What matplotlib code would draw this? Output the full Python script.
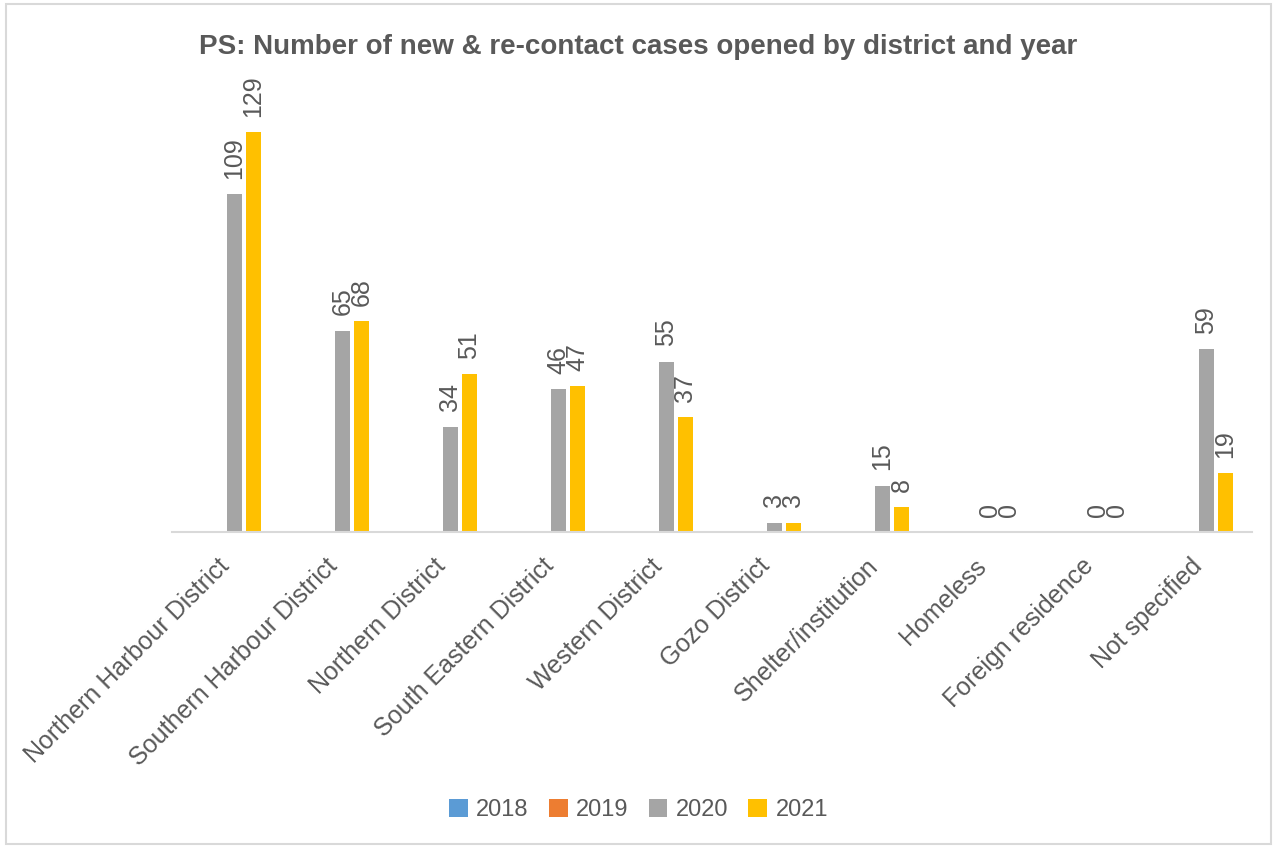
import matplotlib.pyplot as plt
from matplotlib.patches import Rectangle
import numpy as np

plt.rcParams['font.family'] = ['Liberation Sans', 'DejaVu Sans']

# data
districts = ['Northern Harbour District', 'Southern Harbour District', 'Northern District',
             'South Eastern District', 'Western District', 'Gozo District',
             'Shelter/institution', 'Homeless', 'Foreign residence', 'Not specified']
years = ['2018', '2019', '2020', '2021']
v2018 = [None] * 10
v2019 = [None] * 10
v2020 = [109, 65, 34, 46, 55, 3, 15, 0, 0, 59]
v2021 = [129, 68, 51, 47, 37, 3, 8, 0, 0, 19]
colors = ['#5B9BD5', '#ED7D31', '#A5A5A5', '#FFC000']

txt = '#595959'

fig = plt.figure(figsize=(12.77, 8.48), dpi=100)
ax = fig.add_axes([172/1277, 1 - 532/848, 1080/1277, (532 - 100)/848])

x = np.arange(len(districts))
slot = 0.176
bw = 0.139
series = [v2018, v2019, v2020, v2021]
for k, (vals, c, yr) in enumerate(zip(series, colors, years)):
    h = np.array([np.nan if v is None else v for v in vals], dtype=float)
    pos = x + (k - 1.5) * slot - 0.01
    ax.bar(pos, h, width=bw, color=c, label=yr)
    for p, v in zip(pos, vals):
        if v is None:
            continue
        ax.annotate(str(v), (p, v), xytext=(0, 11), textcoords='offset points',
                    rotation=90, ha='center', va='bottom', fontsize=18, color=txt)

ax.set_xlim(-0.5, len(districts) - 0.5)
ax.set_ylim(0, 139.4)
for s in ['top', 'right', 'left']:
    ax.spines[s].set_visible(False)
ax.spines['bottom'].set_color('#D9D9D9')
ax.spines['bottom'].set_linewidth(1.5)
ax.set_yticks([])
ax.set_xticks(x)
ax.set_xticklabels(districts, rotation=45, ha='right', va='center', rotation_mode='anchor',
                   fontsize=18, color=txt)
ax.tick_params(axis='x', length=0, pad=22)

fig.suptitle('PS: Number of new & re-contact cases opened by district and year',
             x=0.5, y=1 - 47/848, va='center', fontsize=20, fontweight='bold', color=txt)

fig.legend(loc='center', bbox_to_anchor=(0.5, 1 - 810/848), ncol=4, frameon=False,
           fontsize=17, labelcolor=txt, handlelength=0.8, handleheight=0.8,
           handletextpad=0.35, columnspacing=0.85)

fig.patches.append(Rectangle((6/1277, 4/848), 1265/1277, 840/848, transform=fig.transFigure,
                             fill=False, edgecolor='#D9D9D9', linewidth=1.5))

fig.savefig('out.png', dpi=100)
